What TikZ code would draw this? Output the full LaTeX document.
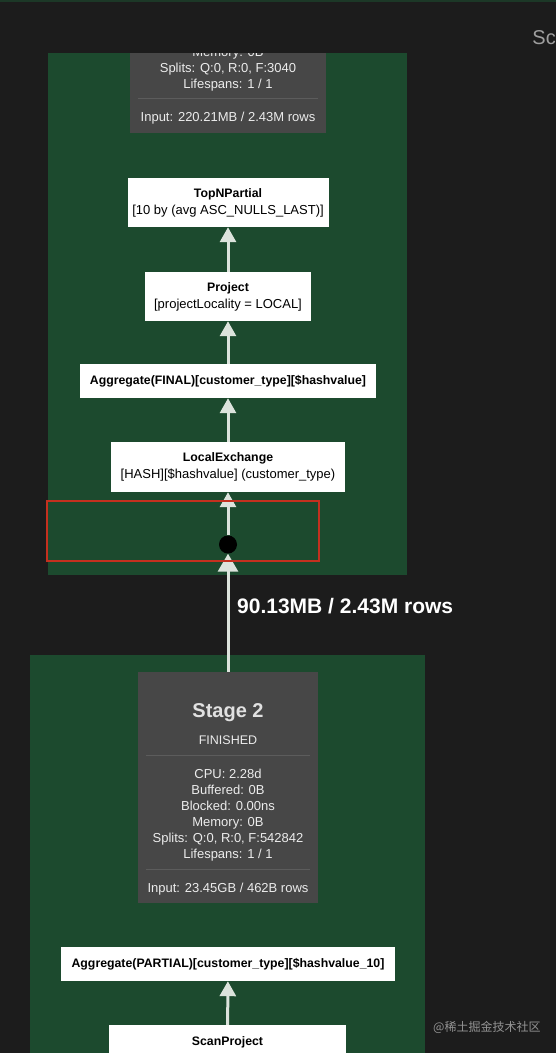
\documentclass[tikz,border=0pt]{standalone}
\usepackage{fontspec}
\setmainfont{Liberation Sans}
\newfontfamily\cjkfont{Noto Sans CJK SC}
\usetikzlibrary{arrows.meta}

\definecolor{pagebg}{HTML}{1C1C1C}
\definecolor{stagegreen}{HTML}{1C4A2E}
\definecolor{statgray}{HTML}{474747}
\definecolor{statrule}{HTML}{5C5C5C}
\definecolor{stattext}{HTML}{ECECEC}
\definecolor{edgegray}{HTML}{DCE3DC}
\definecolor{markred}{HTML}{C4301F}

\tikzset{
  opbox/.style={fill=white, text=black, align=center, inner sep=0pt,
    font=\fontsize{13}{17}\selectfont},
  statbox/.style={fill=statgray, inner sep=0pt},
  stattxt/.style={text=stattext, align=center, inner sep=0pt,
    font=\fontsize{13}{16}\selectfont},
  flow/.style={draw=edgegray, line width=3pt,
    -{Triangle[width=16pt,length=15pt,fill=edgegray]}},
  bigflow/.style={flow, -{Triangle[width=20pt,length=18pt,fill=edgegray]}},
  joint/.style={circle, fill=black, minimum size=18pt, inner sep=0pt},
}

\begin{document}
\begin{tikzpicture}[x=1pt,y=-1pt]
  \useasboundingbox[fill=pagebg] (0,0) rectangle (556,1053);
  \fill[stagegreen!60!pagebg] (0,0) rectangle (556,2);
  \node[anchor=east, text=gray!75, font=\fontsize{20}{20}\selectfont, inner sep=0pt] (sidetab) at (556,38) {Sc};

  % stage panels
  \fill[stagegreen] (48,53) rectangle (407,575);
  \fill[stagegreen] (30,655) rectangle (425,1053);

  % stage 1 stats (scrolled, top cut away)
  \begin{scope}
    \clip (0,53) rectangle (556,1053);
    \node[statbox, minimum width=196pt, minimum height=100pt] (stageone) at (228,83) {};
    \node[stattxt] (oneinfo) at (228,69) {Memory: 0B\\Splits: Q:0, R:0, F:3040\\Lifespans: 1 / 1};
  \end{scope}
  \draw[statrule, line width=0.8pt] (138,98.5) -- (318,98.5);
  \node[stattxt] (oneinput) at (228,118) {Input: 220.21MB / 2.43M rows};

  % stage 1 operators
  \node[opbox, minimum width=201pt, minimum height=49pt] (topn) at (228,202.5)
    {\textbf{\fontsize{12.3}{17}\selectfont TopNPartial}\\{}[10 by (avg ASC\_NULLS\_LAST)]};
  \node[opbox, minimum width=166pt, minimum height=49pt] (project) at (228,296.5)
    {\textbf{\fontsize{12.3}{17}\selectfont Project}\\{}[projectLocality = LOCAL]};
  \node[opbox, minimum width=296pt, minimum height=34pt, font=\bfseries\fontsize{12.3}{17}\selectfont] (aggfinal) at (228,381)
    {Aggregate(FINAL)[customer\_type][\$hashvalue]};
  \node[opbox, minimum width=234pt, minimum height=50pt] (localx) at (228,467)
    {\textbf{\fontsize{12.3}{17}\selectfont LocalExchange}\\{}[HASH][\$hashvalue] (customer\_type)};
  \node[joint] (remotesrc) at (228,544.5) {};

  \draw[flow] (project) -- (topn);
  \draw[flow] (aggfinal) -- (project);
  \draw[flow] (localx) -- (aggfinal);
  \draw[flow] (remotesrc) -- (localx);

  % stage 2
  \node[statbox, minimum width=180pt, minimum height=231pt] (stagetwo) at (228,787.5) {};
  \node[text=stattext!90!gray, font=\bfseries\fontsize{20}{20}\selectfont, inner sep=0pt] (twotitle) at (228,713) {Stage 2};
  \node[stattxt, font=\fontsize{12.5}{16}\selectfont] (twostate) at (228,740) {FINISHED};
  \draw[statrule, line width=0.8pt] ([xshift=8pt]stagetwo.west |- 0,755) -- ([xshift=-8pt]stagetwo.east |- 0,755);
  \node[stattxt] (twoinfo) at (228,815) {CPU: 2.28d\\Buffered: 0B\\Blocked: 0.00ns\\Memory: 0B\\Splits: Q:0, R:0, F:542842\\Lifespans: 1 / 1};
  \draw[statrule, line width=0.8pt] ([xshift=8pt]stagetwo.west |- 0,869) -- ([xshift=-8pt]stagetwo.east |- 0,869);
  \node[stattxt] (twoinput) at (228,889) {Input: 23.45GB / 462B rows};

  \node[opbox, minimum width=334pt, minimum height=34pt, font=\bfseries\fontsize{12.3}{17}\selectfont] (aggpartial) at (228,964)
    {Aggregate(PARTIAL)[customer\_type][\$hashvalue\_10]};
  \node[opbox, minimum width=237pt, minimum height=50pt, font=\bfseries\fontsize{12.3}{17}\selectfont] (scanproj) at (227.5,1050)
    {ScanProject\\\mbox{}};

  \draw[flow] (scanproj) -- (aggpartial);
  \draw[bigflow] (stagetwo) -- (remotesrc);
  \node[anchor=west, text=white, font=\bfseries\fontsize{21}{21}\selectfont, inner sep=0pt] (exchrows) at (237,606) {90.13MB / 2.43M rows};

  % highlight
  \draw[markred, line width=1.8pt] (47,501) rectangle (319,561);

  \node[anchor=west, text=gray!85, font=\cjkfont\fontsize{12}{12}\selectfont, inner sep=0pt] (mark) at (433,1027) {@稀土掘金技术社区};
\end{tikzpicture}
\end{document}
